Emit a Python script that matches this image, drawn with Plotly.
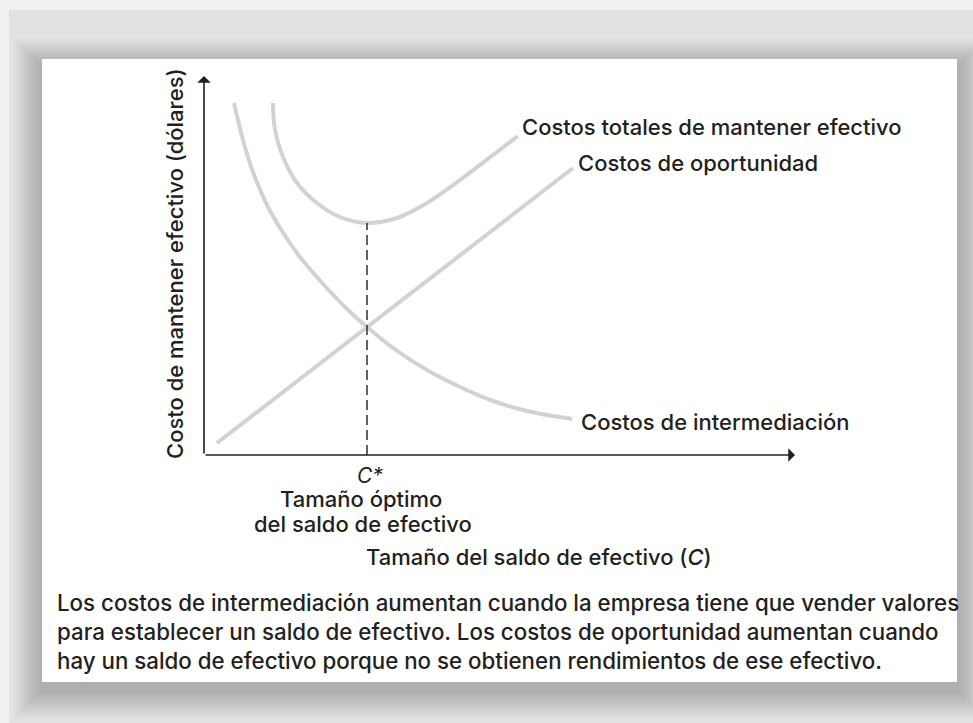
import plotly.graph_objects as go

# curves (x = size of cash balance, y = cost), in plot units
interm_x = [30, 39, 49, 63, 78, 96, 120, 143, 163, 189, 223, 256, 289, 323, 368]
interm_y = [352, 315, 283, 250, 224, 198, 170, 146, 128, 107, 85, 68, 54, 44, 36]
total_x = [69, 71, 79, 93, 113, 136, 163, 193, 223, 256, 289, 314]
total_y = [352, 325, 298, 272, 252, 238, 232, 237, 252, 275, 300, 319]
opp_x = [13, 369]
opp_y = [12, 287]
c_star_x = [163, 163]
c_star_y = [0, 232]
x_max, y_max = 591, 379

TEXT = '#231f20'
CURVE = '#d2d2d2'
FONT = 'Inter, Liberation Sans, Arial, sans-serif'

W, H = 973, 723
ML, MR, MT, MB = 204, W - 795, 76, H - 455


def px(x):
    return (x - ML) / (W - ML - MR)


def py(y):
    return (H - MB - y) / (H - MT - MB)


fig = go.Figure()
curve_line = dict(color=CURVE, width=4, shape='spline', smoothing=1.0)
fig.add_trace(go.Scatter(x=interm_x, y=interm_y, mode='lines', line=curve_line, hoverinfo='skip'))
fig.add_trace(go.Scatter(x=total_x, y=total_y, mode='lines', line=curve_line, hoverinfo='skip'))
fig.add_trace(go.Scatter(x=opp_x, y=opp_y, mode='lines', line=dict(color=CURVE, width=4), hoverinfo='skip'))
fig.add_trace(go.Scatter(x=c_star_x, y=c_star_y, mode='lines', line=dict(color=TEXT, width=1.4, dash='10px,5px'), hoverinfo='skip'))

shapes = []
# grey panel behind the card
shapes.append(dict(type='rect', xref='paper', yref='paper', x0=px(9), x1=px(W + 5), y0=py(10), y1=py(H + 5),
                   fillcolor='#e2e2e2', line_width=0, layer='below'))
# soft shadow around the card
for i in range(14):
    g = 2 + i * 2
    shapes.append(dict(type='rect', xref='paper', yref='paper', x0=px(42 - g), x1=px(957 + g),
                       y0=py(59 - g + 8), y1=py(682 + g + 8), fillcolor='rgba(0,0,0,0.014)',
                       line_width=0, layer='below'))
shapes.append(dict(type='rect', xref='paper', yref='paper', x0=px(42), x1=px(957), y0=py(59), y1=py(682),
                   fillcolor='white', line_width=0, layer='below'))

annotations = []
# axes with arrow heads
for (tx, ty) in [(x_max, 0), (0, y_max)]:
    annotations.append(dict(x=tx, y=ty, ax=0, ay=0, xref='x', yref='y', axref='x', ayref='y', text='',
                            showarrow=True, arrowhead=1, arrowsize=1.4, arrowwidth=1.6, arrowcolor=TEXT))

lab = dict(family=FONT, size=22, color=TEXT, weight=500)


def note(x, y, text, font=lab, **kw):
    return dict(x=px(x), y=py(y), xref='paper', yref='paper', text=text, showarrow=False, font=font,
                xanchor=kw.pop('xanchor', 'center'), yanchor='middle', **kw)


annotations += [
    note(520, 127, 'Costos totales de mantener efectivo', xanchor='left'),
    note(576, 163, 'Costos de oportunidad', xanchor='left'),
    note(579, 422, 'Costos de intermediación', xanchor='left'),
    note(370, 475, '<i>C*</i>', font=dict(family=FONT, size=21, color=TEXT)),
    note(361, 499, 'Tamaño óptimo'),
    note(363, 524, 'del saldo de efectivo'),
    note(539, 557, 'Tamaño del saldo de efectivo (<i>C</i>)'),
    note(175, 264, 'Costo de mantener efectivo (dólares)', textangle=-90),
    note(55, 631, 'Los costos de intermediación aumentan cuando la empresa tiene que vender valores<br>'
                  'para establecer un saldo de efectivo. Los costos de oportunidad aumentan cuando<br>'
                  'hay un saldo de efectivo porque no se obtienen rendimientos de ese efectivo.',
         font=dict(family=FONT, size=22.3, color=TEXT, weight=500), xanchor='left', align='left'),
]

fig.update_layout(
    width=W, height=H, autosize=False,
    margin=dict(l=ML, r=MR, t=MT, b=MB, pad=0),
    paper_bgcolor='#f1f1f1', plot_bgcolor='rgba(0,0,0,0)',
    showlegend=False,
    xaxis=dict(range=[0, x_max], visible=False, fixedrange=True),
    yaxis=dict(range=[0, y_max], visible=False, fixedrange=True),
    shapes=shapes, annotations=annotations,
)
fig.write_html('out.html', config={'displayModeBar': False},
               post_script="document.body.style.margin='0px';")
